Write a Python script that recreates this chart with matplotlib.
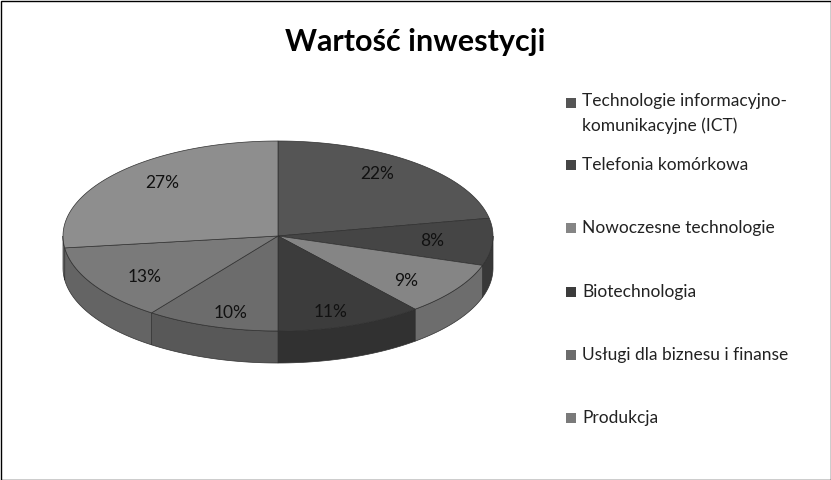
import numpy as np
import matplotlib.pyplot as plt
from matplotlib.patches import Polygon, Rectangle

plt.rcParams['font.family'] = ['Lato', 'DejaVu Sans']

categories = ["Technologie informacyjno-\nkomunikacyjne (ICT)", "Telefonia komórkowa",
              "Nowoczesne technologie", "Biotechnologia",
              "Usługi dla biznesu i finanse", "Produkcja", "Inne"]
values = [22, 8, 9, 11, 10, 13, 27]
colors = ["#555555", "#454545", "#858585", "#3c3c3c", "#6c6c6c", "#7a7a7a", "#8e8e8e"]

fig = plt.figure(figsize=(8.31, 4.8), dpi=100)
ax = fig.add_axes([0, 0, 1, 1])
ax.set_xlim(0, 831)
ax.set_ylim(480, 0)
ax.axis('off')

cx, cy, rx, ry, depth = 278, 236, 215, 95, 32

def pt(t):
    return cx + rx * np.cos(t), cy - ry * np.sin(t)

def shade(c, f):
    v = int(int(c[1:3], 16) * f)
    return "#%02x%02x%02x" % (v, v, v)

total = sum(values)
bounds = np.radians(90 - np.concatenate([[0], np.cumsum(values)]) / total * 360)

# sides (front half only)
for i in range(len(values)):
    a0, a1 = bounds[i + 1], bounds[i]
    for off in (0, -2 * np.pi):
        l, h = max(a0, off - np.pi), min(a1, off)
        if h > l:
            t = np.linspace(l, h, 60)
            x, y = pt(t)
            xs = np.concatenate([x, x[::-1]])
            ys = np.concatenate([y, y[::-1] + depth])
            ax.add_patch(Polygon(np.column_stack([xs, ys]), closed=True,
                                 fc=shade(colors[i], 0.82), ec="#303030", lw=0.5))

# tops
for i in range(len(values)):
    t = np.linspace(bounds[i + 1], bounds[i], 100)
    x, y = pt(t)
    xs = np.concatenate([[cx], x])
    ys = np.concatenate([[cy], y])
    ax.add_patch(Polygon(np.column_stack([xs, ys]), closed=True,
                         fc=colors[i], ec="#303030", lw=0.5))
    mid = (bounds[i] + bounds[i + 1]) / 2
    lx, ly = cx + rx * 0.72 * np.cos(mid), cy - ry * 0.85 * np.sin(mid)
    ax.text(lx, ly, f"{values[i]}%", ha='center', va='center', fontsize=12.5, color='#111111')

ax.text(415, 42, "Wartość inwestycji", ha='center', va='center', fontsize=22,
        fontweight='bold', color='black')

ys_leg = [103, 165, 228, 292, 355, 418]
for i, yl in enumerate(ys_leg):
    ax.add_patch(Rectangle((566, yl - 5), 10, 10, fc=colors[i], ec='none'))
    ax.text(582, yl - 10 if i == 0 else yl, categories[i], ha='left',
            va='top' if i == 0 else 'center', fontsize=12.5, color='#222222',
            linespacing=1.6)

ax.add_patch(Rectangle((0.5, 0.5), 830, 479, fill=False, ec='black', lw=1))

fig.savefig("out.png", dpi=100)
